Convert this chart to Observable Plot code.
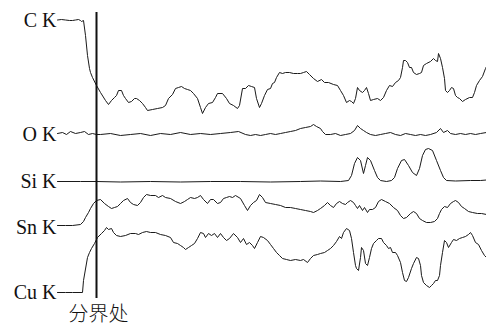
<!DOCTYPE html>
<html><head><meta charset="utf-8">
<script src="https://cdn.jsdelivr.net/npm/d3@7"></script>
<script src="https://cdn.jsdelivr.net/npm/@observablehq/plot@0.6"></script>
<style>body{margin:0;background:#fff}svg{display:block}</style>
</head><body><div id="chart"></div>
<script>
// Line-scan readings: [position, level] (level measured downward on the panel)
const traceNames = ["C K", "O K", "Si K", "Sn K", "Cu K"];
const labelLevels = [20, 134, 181, 227, 292];
const boundaryPos = 96;
const boundaryLabel = "分界处";

const cK = [[57,19.5],[61,19],[65,19.5],[69,20],[72,20],[75,19.5],[78,19],[80,20],[81,21],[83,20],[85,35],[87,55],[89,68],[90,72],[92,77],[96,85],[100,92],[105,100],[108,104],[111,100],[114,97],[116,95],[118,90],[121,90],[123,95],[125,98],[128,102],[131,101],[134,98],[136,98],[139,100],[142,103],[145,107],[147,110],[152,109],[157,108],[162,107],[165,105],[168,98],[172,94],[175,88],[178,87],[181,86],[184,88],[187,89],[190,90],[193,93],[197,98],[200,107],[202,113],[205,107],[208,103],[212,102],[215,97],[217,93],[222,93],[226,98],[229,103],[233,105],[237,108],[239,105],[242,88],[245,88],[248,85],[251,86],[254,87],[256,98],[259,107],[261,103],[264,95],[267,89],[270,88],[272,83],[274,82],[276,77],[279,72],[282,73],[285,72],[289,72],[293,73],[297,73],[300,73],[303,72],[306,71],[309,74],[313,78],[317,81],[321,79],[324,82],[328,82],[333,84],[337,85],[340,90],[343,95],[346,102],[349,100],[351,101],[353,103],[355,98],[357,87],[359,90],[362,92],[364,90],[366,87],[368,93],[370,100],[373,99],[377,98],[380,100],[383,97],[386,90],[389,85],[392,86],[395,82],[398,80],[400,77],[402,67],[403,60],[405,60],[407,62],[409,67],[411,67],[413,72],[416,74],[419,73],[421,72],[423,65],[426,63],[430,61],[433,58],[435,60],[437,61],[438,53],[440,58],[442,67],[444,78],[445,90],[447,92],[449,90],[451,87],[453,88],[455,95],[457,97],[459,98],[462,101],[465,99],[469,97],[472,97],[474,92],[476,85],[479,80],[482,76],[485,68],[486,66]];

const oK = [[57,133],[62,132],[66,134],[70,131],[75,133],[80,132],[84,131],[88,134],[92,133],[96,134],[100,134],[110,133],[120,135],[130,134],[140,133],[150,135],[160,133],[170,134],[180,132],[190,134],[200,133],[210,134],[220,133],[230,132],[238,131],[245,134],[250,135],[255,134],[260,135],[265,134],[270,133],[275,134],[280,133],[285,132],[290,131],[295,130],[300,128],[305,127],[310,126],[313,124],[316,126],[320,128],[322,131],[325,134],[330,134],[335,133],[340,135],[345,134],[350,133],[354,130],[357,125],[360,128],[363,130],[366,132],[370,134],[375,135],[380,134],[385,133],[390,132],[395,134],[400,135],[405,133],[410,134],[415,135],[420,134],[425,135],[430,134],[436,132],[440,128],[443,132],[447,130],[450,133],[455,134],[460,133],[465,134],[470,133],[475,134],[480,133],[486,132]];

const siK = [[57,181],[80,181],[96,181],[120,181.5],[150,181],[180,181.5],[210,181],[240,181],[270,181.5],[300,181],[320,180.5],[340,181],[348,180],[351,175],[354,163],[357,157],[360,160],[363,173],[365,165],[367,157],[370,160],[374,170],[377,177],[380,180],[386,181],[391,180],[394,177],[397,168],[401,160],[404,159],[408,165],[412,172],[416,175],[419,168],[422,155],[425,149],[428,148],[432,150],[436,160],[440,170],[443,177],[446,180],[455,180.5],[470,180],[480,180],[486,179.5]];

const snK = [[57,225],[65,225],[72,225],[80,224],[83,221],[85,217],[88,212],[90,208],[93,203],[96,200],[100,199],[104,203],[108,206],[111,208],[114,207],[117,206],[120,203],[123,200],[127,198],[130,202],[133,204],[137,205],[140,202],[143,197],[146,194],[150,195],[155,195],[158,197],[162,195],[165,197],[170,198],[175,201],[180,203],[184,201],[187,199],[190,197],[194,198],[197,197],[200,195],[203,199],[207,203],[210,199],[213,199],[217,203],[220,202],[223,198],[226,197],[229,196],[232,197],[235,195],[240,198],[244,205],[247,210],[250,205],[253,202],[256,200],[259,194],[262,197],[265,202],[270,203],[275,204],[280,205],[285,207],[290,207],[295,208],[300,209],[305,210],[310,211],[313,212],[317,210],[320,208],[324,205],[327,202],[330,205],[333,207],[336,203],[339,201],[342,203],[345,204],[347,202],[350,200],[353,202],[355,205],[357,208],[359,205],[362,210],[364,207],[367,212],[369,209],[372,209],[375,207],[378,201],[381,199],[385,201],[389,203],[393,207],[397,210],[400,215],[403,218],[406,217],[410,213],[413,211],[416,213],[419,218],[422,220],[426,222],[430,222],[434,221],[437,218],[439,213],[441,209],[444,206],[447,207],[450,203],[453,201],[455,200],[458,202],[461,206],[464,208],[468,211],[472,212],[477,213],[481,213],[486,214]];

const cuK = [[57,292],[65,292],[72,292],[82,292],[83,280],[87,257],[89,252],[91,248],[94,243],[97,237],[101,233],[104,230],[106,227],[108,229],[111,228],[113,232],[116,235],[120,236],[125,235],[130,233],[135,233],[138,234],[142,232],[146,231],[150,232],[155,232],[160,234],[165,235],[170,237],[173,242],[177,243],[180,245],[183,247],[185,249],[188,247],[191,245],[194,243],[197,238],[200,232],[203,233],[205,237],[208,233],[211,235],[214,233],[217,237],[220,233],[223,237],[226,240],[229,238],[233,233],[237,237],[240,242],[243,238],[246,244],[249,242],[252,245],[254,248],[257,242],[260,236],[263,237],[267,240],[270,244],[273,248],[276,252],[279,255],[282,258],[286,259],[290,260],[295,259],[300,260],[303,259],[307,262],[310,258],[313,255],[317,254],[320,253],[324,252],[327,250],[330,248],[333,245],[336,241],[339,236],[341,238],[343,232],[346,228],[349,230],[351,238],[353,252],[355,265],[356,268],[358,270],[360,257],[361,247],[363,250],[365,263],[367,265],[369,257],[371,248],[373,243],[376,240],[378,238],[381,238],[383,242],[386,245],[388,248],[390,247],[392,252],[395,252],[397,255],[400,262],[402,272],[404,280],[406,281],[408,277],[411,268],[413,263],[416,257],[418,258],[420,265],[421,275],[423,282],[426,285],[429,287],[431,285],[433,283],[435,280],[437,280],[439,275],[440,265],[442,252],[444,240],[446,242],[448,247],[451,242],[453,239],[456,240],[459,238],[462,237],[465,236],[468,234],[470,232],[472,235],[475,242],[478,244],[481,250],[484,255],[486,257]];

const traces = [cK, oK, siK, snK, cuK];
const rows = traces.flatMap((t, i) => t.map(([p, v]) => ({name: traceNames[i], p, v})));
const labels = traceNames.map((n, i) => ({name: n, v: labelLevels[i]}));

const chart = Plot.plot({
  width: 486, height: 327,
  marginTop: 0, marginRight: 0, marginBottom: 0, marginLeft: 0,
  style: {background: "#fff", overflow: "visible"},
  x: {domain: [0, 486], axis: null},
  y: {domain: [0, 327], range: [0, 327], axis: null},
  marks: [
    Plot.line(rows, {x: "p", y: "v", z: "name", stroke: "#1a1a1a", strokeWidth: 1, curve: "linear"}),
    Plot.ruleX([boundaryPos], {y1: 12, y2: 298, stroke: "#111", strokeWidth: 2}),
    Plot.text(labels, {x: 56, y: "v", text: "name", textAnchor: "end", fontSize: 20,
      fontFamily: "Liberation Serif, Times New Roman, serif", fill: "#111"}),
    Plot.text([boundaryLabel], {x: boundaryPos + 2, y: 314, text: d => d, fontSize: 20,
      fontFamily: "Noto Sans CJK SC, sans-serif", fontWeight: 300, fill: "#111"})
  ]
});
document.getElementById("chart").append(chart);
</script>
</body></html>
